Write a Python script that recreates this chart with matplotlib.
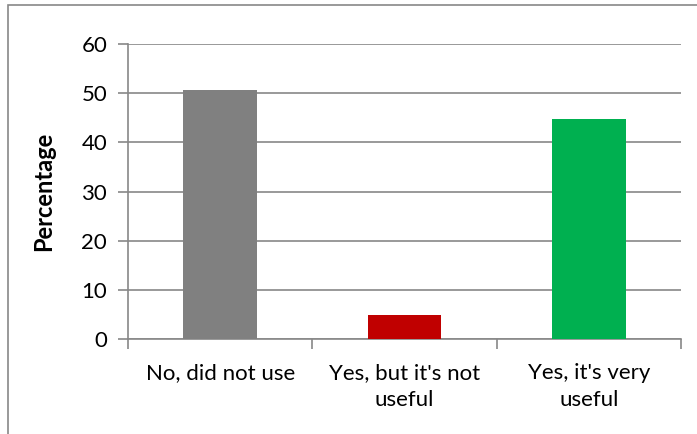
import matplotlib
matplotlib.use("Agg")
import matplotlib.pyplot as plt
from matplotlib.patches import Rectangle

categories = ["No, did not use", "Yes, but it's not\nuseful", "Yes, it's very\nuseful"]
values = [50.6, 4.9, 44.7]
colors = ["#808080", "#C00000", "#00B050"]
yticks = [0, 10, 20, 30, 40, 50, 60]

plt.rcParams['font.family'] = ['Lato', 'DejaVu Sans']

W, H = 697, 434
fig = plt.figure(figsize=(W/100, H/100), dpi=100)
L, R, T, B = 128, 681, 44, 339
ax = fig.add_axes([L/W, 1-B/H, (R-L)/W, (B-T)/H])

grid_c = "#888888"
x = list(range(len(categories)))
ax.bar(x, values, width=0.40, color=colors, zorder=3)
ax.set_xlim(-0.5, 2.5)
ax.set_ylim(0, 60)
ax.set_yticks(yticks)
ax.set_yticklabels([str(t) for t in yticks], fontsize=16)
ax.yaxis.grid(True, color=grid_c, linewidth=1.2, zorder=0)
ax.set_axisbelow(True)
ax.set_xticks([-0.5, 0.5, 1.5, 2.5])
ax.set_xticklabels([])
ax.set_xticks(x, minor=True)
ax.set_xticklabels(categories, minor=True, fontsize=16, linespacing=1.45)
ax.tick_params(axis='x', which='minor', length=0, pad=17)
ax.tick_params(axis='x', which='major', length=7, color=grid_c, width=1.2, direction='out')
ax.tick_params(axis='y', length=7, color=grid_c, width=1.2, direction='out', pad=8)
for s in ['top', 'right']:
    ax.spines[s].set_visible(False)
for s in ['left', 'bottom']:
    ax.spines[s].set_color(grid_c)
    ax.spines[s].set_linewidth(1.2)
ax.set_ylabel("Percentage", fontsize=17, fontweight='bold')
ax.yaxis.set_label_coords((55 - L) / (R - L), 0.5)

fig.patches.append(Rectangle((8/W, -0.1), 1.2, 1 - 5/H + 0.1, transform=fig.transFigure,
                             fill=False, edgecolor="#888888", linewidth=1.2))
fig.savefig("out.png", dpi=100)
